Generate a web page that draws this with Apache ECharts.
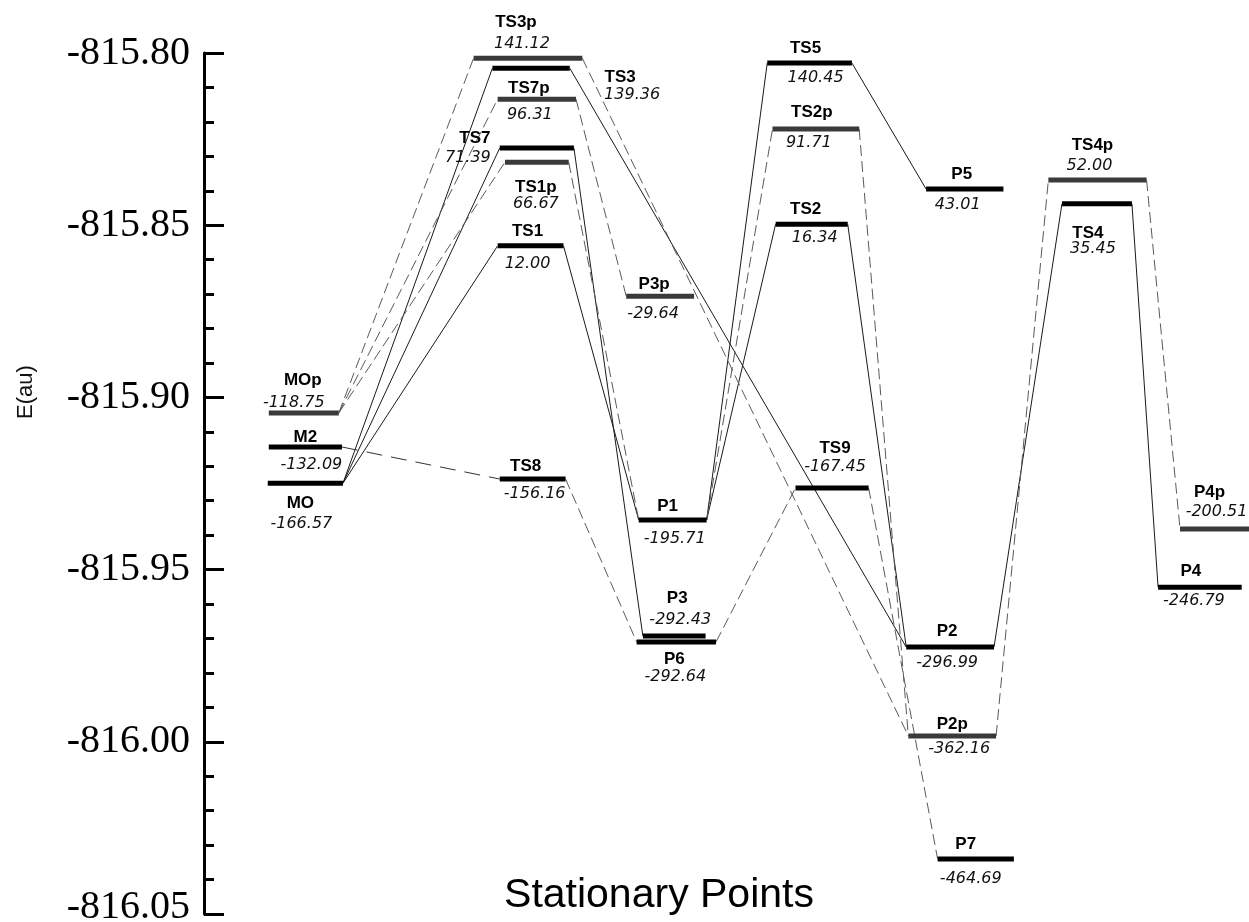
<!DOCTYPE html>
<html>
<head>
<meta charset="utf-8">
<script src="https://cdn.jsdelivr.net/npm/echarts@6/dist/echarts.min.js"></script>
<style>
  html, body { margin: 0; padding: 0; background: #fff; }
  #chart { width: 1249px; height: 922px; }
</style>
</head>
<body>
<div id="chart"></div>
<script>
// ---------------- DATA ----------------
const levelNames = ['MOp','M2','MO','TS3p','TS3','TS7p','TS7','TS1p','TS1','TS8',
  'P3p','P1','P3','P6','TS5','TS2p','TS2','TS9','P5','P2','P2p','P7','TS4p','TS4','P4p','P4'];
// absolute energies (au)
const levelEnergyAu = [-815.9045,-815.9144,-815.9249,-815.8015,-815.8044,-815.8134,-815.8276,-815.8317,-815.8560,-815.9237,
  -815.8706,-815.9356,-815.9693,-815.9710,-815.8029,-815.8221,-815.8497,-815.9263,-815.8395,-815.9725,-815.9983,-816.0340,
  -815.8369,-815.8438,-815.9382,-815.9551];
// relative energies printed on the diagram
const levelRelE = [-118.75,-132.09,-166.57,141.12,139.36,96.31,71.39,66.67,12.00,-156.16,
  -29.64,-195.71,-292.43,-292.64,140.45,91.71,16.34,-167.45,43.01,-296.99,-362.16,-464.69,
  52.00,35.45,-200.51,-246.79];
// reaction-coordinate extent of each level (start, end)
const levelStart = [0.62,0.62,0.61,2.58,2.76,2.81,2.83,2.88,2.81,2.83,
  4.04,4.16,4.20,4.14,5.39,5.44,5.47,5.66,6.91,6.72,6.74,7.02,8.08,8.21,9.34,9.13];
const levelEnd = [1.29,1.32,1.33,3.62,3.50,3.56,3.54,3.49,3.44,3.46,
  4.69,4.81,4.80,4.90,6.20,6.27,6.16,6.36,7.65,7.56,7.58,7.75,9.02,8.88,10.0,9.93];

// connections between levels
const connFrom = ['MO','MO','MO','TS1','TS7','TS3','P1','P1','TS5','TS2','P2','TS4',
  'MOp','MOp','MOp','TS3p','TS7p','TS1p','P1','TS2p','P2p','TS4p','M2','TS8','P6','TS9'];
const connTo = ['TS1','TS7','TS3','P1','P3','P2','TS5','TS2','P5','P2','TS4','P4',
  'TS3p','TS7p','TS1p','P2p','P3p','P1','TS2p','P2p','TS4p','P4p','TS8','P6','TS9','P7'];
const connKind = ['solid','solid','solid','solid','solid','solid','solid','solid','solid','solid','solid','solid',
  'dash','dash','dash','dash','dash','dash','dash','dash','dash','dash','long','dash','dash','dash'];

const yTicks = { min: -816.05, max: -815.80, step: 0.05 };

// ---------------- LAYOUT (label offsets in px from bar centre) ----------------
const labelLayout = {
  MOp:[-1,-33,-10,-10], M2:[0,-10,6,18], MO:[-5,20,-4,41],
  TS3p:[-12,-36,-6,-14], TS3:[89,9,101,27], TS7p:[-8,-11,-7,16], TS7:[-62,-10,-69,10],
  TS1p:[-1,25,-1,42], TS1:[-3,-15,-3,18], TS8:[-7,-13,2,15],
  P3p:[-6,-12,-7,18], P1:[-5,-14,2,19], P3:[3,-38,6,-16], P6:[-2,17,-1,35],
  TS5:[-4,-15,6,15], TS2p:[-4,-17,-7,14], TS2:[-6,-15,3,14], TS9:[3,-40,3,-21],
  P5:[-3,-15,-7,16], P2:[-3,-16,-3,16], P2p:[0,-12,7,13], P7:[-10,-15,-5,20],
  TS4p:[-5,-35,-8,-14], TS4:[-9,29,-4,45], P4p:[-5,-37,2,-17], P4:[-9,-16,-6,14]
};

// ---------------- BUILD ----------------
const idx = {};
levelNames.forEach((n, i) => idx[n] = i);

const levelData = levelNames.map((n, i) => [levelStart[i], levelEnd[i], levelEnergyAu[i], i]);

function connItems(kind) {
  const out = [];
  connFrom.forEach((f, k) => {
    if (connKind[k] !== kind) return;
    const a = idx[f], b = idx[connTo[k]];
    out.push({ coords: [[levelEnd[a], levelEnergyAu[a]], [levelStart[b], levelEnergyAu[b]]] });
  });
  return out;
}

const chart = echarts.init(document.getElementById('chart'), null, { renderer: 'canvas' });

const option = {
  animation: false,
  backgroundColor: '#ffffff',
  grid: { left: 204, right: 0, top: 53, bottom: 8, containLabel: false, outerBoundsMode: 'none' },
  xAxis: { type: 'value', min: 0, max: 10, show: false },
  yAxis: {
    type: 'value',
    min: yTicks.min, max: yTicks.max, interval: yTicks.step,
    axisLine: { show: true, lineStyle: { color: '#000', width: 3 } },
    axisTick: { show: true, inside: true, length: 20, lineStyle: { color: '#000', width: 3 } },
    minorTick: { show: true, splitNumber: 5, length: 10, lineStyle: { color: '#000', width: 3 } },
    splitLine: { show: false },
    axisLabel: {
      margin: 14, color: '#000', fontFamily: 'Liberation Serif', fontSize: 40,
      formatter: function (v) {
        const s = v.toFixed(2);
        return v < -816.04 ? '{b|' + s + '}' : s;
      },
      rich: { b: { fontFamily: 'Liberation Serif', fontSize: 40, color: '#000', padding: [0, 0, 14, 0] } }
    }
  },
  graphic: [
    { type: 'text', x: 26, y: 392, rotation: Math.PI / 2,
      style: { text: 'E(au)', fontFamily: 'Liberation Sans', fontSize: 22, fill: '#111', align: 'center', verticalAlign: 'middle' } },
    { type: 'text', x: 659, y: 896,
      style: { text: 'Stationary Points', fontFamily: 'Liberation Sans', fontSize: 41, fill: '#000', align: 'center', verticalAlign: 'middle' } }
  ],
  series: [
    { type: 'lines', coordinateSystem: 'cartesian2d', silent: true, z: 2,
      lineStyle: { color: '#1a1a1a', width: 1, type: 'solid', opacity: 1 },
      data: connItems('solid') },
    { type: 'lines', coordinateSystem: 'cartesian2d', silent: true, z: 2,
      lineStyle: { color: '#5a5a5a', width: 1, type: [11, 5], opacity: 1 },
      data: connItems('dash') },
    { type: 'lines', coordinateSystem: 'cartesian2d', silent: true, z: 2,
      lineStyle: { color: '#333', width: 1, type: [16, 9], opacity: 1 },
      data: connItems('long') },
    { type: 'custom', coordinateSystem: 'cartesian2d', silent: true, z: 5,
      encode: { x: [0, 1], y: 2 },
      data: levelData,
      renderItem: function (params, api) {
        const i = api.value(3);
        const name = levelNames[i];
        const p0 = api.coord([api.value(0), api.value(2)]);
        const p1 = api.coord([api.value(1), api.value(2)]);
        const cx = (p0[0] + p1[0]) / 2, cy = p0[1];
        const lay = labelLayout[name];
        const primed = /p$/.test(name);
        return {
          type: 'group',
          children: [
            { type: 'rect', shape: { x: p0[0], y: cy - 2.5, width: p1[0] - p0[0], height: 5 },
              style: { fill: primed ? '#3a3a3a' : '#000' } },
            { type: 'text', x: cx + lay[0], y: cy + lay[1],
              style: { text: name, fontFamily: 'Liberation Sans', fontWeight: 'bold', fontSize: 17,
                       fill: '#000', align: 'center', verticalAlign: 'middle' } },
            { type: 'text', x: cx + lay[2], y: cy + lay[3],
              style: { text: levelRelE[i].toFixed(2), fontFamily: 'DejaVu Sans', fontStyle: 'italic', fontSize: 16,
                       fill: '#111', align: 'center', verticalAlign: 'middle' } }
          ]
        };
      }
    }
  ]
};
chart.setOption(option);
</script>
</body>
</html>
